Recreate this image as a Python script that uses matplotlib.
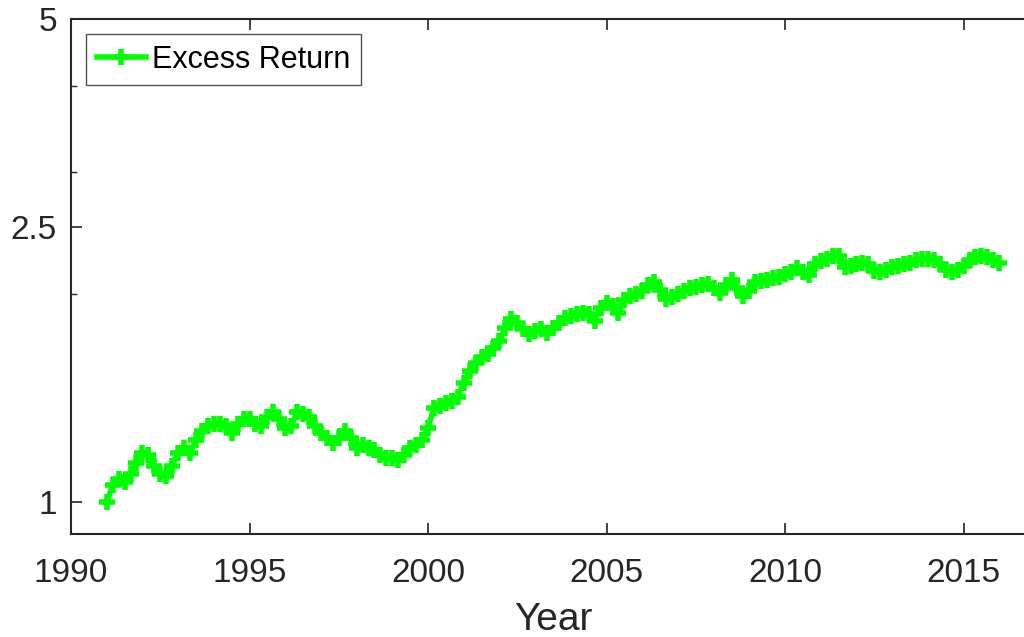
import numpy as np
import matplotlib
matplotlib.use("Agg")
import matplotlib.pyplot as plt

# Excess return index, read every 2 months from Jan 1991 to Jan 2016
excess_return = [
    1.00, 1.06, 1.08, 1.07, 1.10, 1.14,   # 1991
    1.18, 1.17, 1.13, 1.10, 1.09, 1.13,   # 1992
    1.18, 1.20, 1.18, 1.23, 1.27, 1.29,   # 1993
    1.30, 1.30, 1.29, 1.26, 1.30, 1.32,   # 1994
    1.32, 1.30, 1.29, 1.33, 1.35, 1.32,   # 1995
    1.28, 1.29, 1.35, 1.34, 1.33, 1.29,   # 1996
    1.26, 1.24, 1.22, 1.24, 1.27, 1.24,   # 1997
    1.20, 1.21, 1.20, 1.19, 1.17, 1.16,   # 1998
    1.16, 1.15, 1.17, 1.20, 1.21, 1.23,   # 1999
    1.28, 1.37, 1.38, 1.39, 1.40, 1.42,   # 2000
    1.49, 1.55, 1.59, 1.62, 1.64, 1.67,   # 2001
    1.71, 1.79, 1.84, 1.82, 1.78, 1.75,   # 2002
    1.77, 1.78, 1.76, 1.79, 1.82, 1.85,   # 2003
    1.86, 1.87, 1.88, 1.87, 1.83, 1.91,   # 2004
    1.94, 1.92, 1.88, 1.96, 1.99, 2.00,   # 2005
    2.02, 2.06, 2.08, 2.03, 1.97, 1.98,   # 2006
    2.00, 2.02, 2.04, 2.05, 2.06, 2.07,   # 2007
    2.04, 2.01, 2.06, 2.10, 2.04, 1.99,   # 2008
    2.02, 2.08, 2.09, 2.10, 2.11, 2.12,   # 2009
    2.14, 2.15, 2.18, 2.15, 2.13, 2.21,   # 2010
    2.23, 2.25, 2.27, 2.27, 2.19, 2.20,   # 2011
    2.21, 2.22, 2.21, 2.16, 2.15, 2.17,   # 2012
    2.19, 2.20, 2.21, 2.22, 2.24, 2.25,   # 2013
    2.25, 2.24, 2.21, 2.17, 2.15, 2.17,   # 2014
    2.20, 2.24, 2.26, 2.27, 2.26, 2.24,   # 2015
    2.22,                                 # 2016
]
start_year = 1991
steps_per_year = 6

x_ticks = [1990, 1995, 2000, 2005, 2010, 2015]
y_ticks = [1, 2.5, 5]
y_tick_labels = ["1", "2.5", "5"]
y_minor_ticks = [2, 3, 4]

years = start_year + np.arange(len(excess_return)) / steps_per_year

plt.rcParams["font.family"] = ["Liberation Sans", "DejaVu Sans"]
axis_color = "#262626"

fig = plt.figure(figsize=(10.24, 6.37), dpi=100)
ax = fig.add_axes([71 / 1024, 103 / 637, 964 / 1024, 515 / 637])

ax.plot(years, excess_return, color="#00ff00", linewidth=4, marker="+",
        markersize=11, markeredgewidth=4, label="Excess Return")

ax.set_yscale("log")
ax.set_xlim(1990, 2017)
ax.set_ylim(0.9, 5)
ax.set_xticks(x_ticks)
ax.set_xticklabels([str(x) for x in x_ticks])
ax.set_yticks(y_ticks)
ax.set_yticklabels(y_tick_labels)
ax.set_yticks(y_minor_ticks, minor=True)
ax.yaxis.set_minor_formatter(matplotlib.ticker.NullFormatter())

ax.tick_params(axis="both", which="major", direction="in", length=8, width=1.2,
               colors=axis_color, labelsize=24)
ax.tick_params(axis="x", top=True, pad=17)
ax.tick_params(axis="y", which="both", right=True, pad=10)
ax.tick_params(axis="y", which="minor", direction="in", length=4, width=1.0,
               colors=axis_color)
for sp in ax.spines.values():
    sp.set_color(axis_color)
    sp.set_linewidth(1.5)

ax.set_xlabel("Year", fontsize=28, color=axis_color, labelpad=10)

leg = ax.legend(loc="upper left", bbox_to_anchor=(15 / 964, 1 - 15 / 515),
                borderaxespad=0, fontsize=22, frameon=True, fancybox=False,
                handlelength=1.6, handletextpad=0.2, borderpad=0.35)
leg.get_frame().set_edgecolor(axis_color)
leg.get_frame().set_linewidth(1.0)

fig.savefig("out.png", dpi=100)
